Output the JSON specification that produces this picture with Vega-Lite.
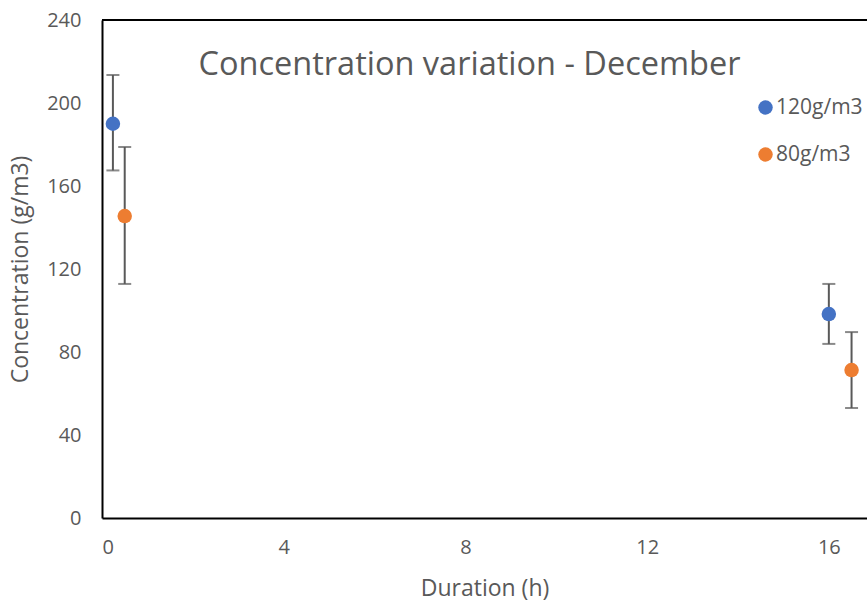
{
  "$schema": "https://vega.github.io/schema/vega-lite/v6.json",
  "width": 765,
  "height": 498,
  "autosize": {"type": "none"},
  "padding": {"left": 102, "top": 20, "right": 0, "bottom": 83},
  "background": "white",
  "config": {
    "view": {"stroke": null},
    "font": "Open Sans",
    "axis": {"labelColor": "#595959", "titleColor": "#595959", "labelFont": "Open Sans", "titleFont": "Open Sans", "labelFontSize": 20, "titleFontSize": 23, "titleFontWeight": "normal", "grid": false, "ticks": false, "domainColor": "black", "domainWidth": 2}
  },
  "title": {"text": "Concentration variation - December", "fontSize": 32.5, "font": "Open Sans", "fontWeight": "normal", "color": "#595959", "anchor": "middle", "frame": "group", "orient": "top", "offset": -71, "dx": -15},
  "data": {"values": [
    {"duration": 0.24, "conc": 190, "lo": 167.5, "hi": 213.5, "series": "120g/m3"},
    {"duration": 0.5, "conc": 145.5, "lo": 112.8, "hi": 178.8, "series": "80g/m3"},
    {"duration": 16.0, "conc": 98.3, "lo": 83.9, "hi": 112.8, "series": "120g/m3"},
    {"duration": 16.5, "conc": 71.3, "lo": 53, "hi": 89.6, "series": "80g/m3"}
  ]},
  "layer": [
    {
      "mark": {"type": "rule", "color": "black", "strokeWidth": 2},
      "encoding": {"y": {"datum": 240, "scale": {"domain": [0, 240]}}}
    },
    {
      "mark": {"type": "rule", "color": "#595959", "strokeWidth": 2},
      "encoding": {
        "x": {"field": "duration", "type": "quantitative"},
        "y": {"field": "lo", "type": "quantitative"},
        "y2": {"field": "hi"}
      }
    },
    {
      "mark": {"type": "tick", "color": "#595959", "orient": "horizontal", "size": 13, "thickness": 2},
      "encoding": {
        "x": {"field": "duration", "type": "quantitative"},
        "y": {"field": "lo", "type": "quantitative"}
      }
    },
    {
      "mark": {"type": "tick", "color": "#595959", "orient": "horizontal", "size": 13, "thickness": 2},
      "encoding": {
        "x": {"field": "duration", "type": "quantitative"},
        "y": {"field": "hi", "type": "quantitative"}
      }
    },
    {
      "mark": {"type": "point", "filled": true, "opacity": 1, "size": 210, "shape": "circle"},
      "encoding": {
        "x": {"field": "duration", "type": "quantitative", "title": "Duration (h)",
              "scale": {"domain": [0, 16.84], "nice": false, "zero": false},
              "axis": {"values": [0, 4, 8, 12, 16], "labelPadding": 19, "titlePadding": 20}},
        "y": {"field": "conc", "type": "quantitative", "title": "Concentration (g/m3)",
              "scale": {"domain": [0, 240], "nice": false},
              "axis": {"values": [0, 40, 80, 120, 160, 200, 240], "labelPadding": 21, "titlePadding": 14}},
        "color": {"field": "series", "type": "nominal",
                  "scale": {"domain": ["120g/m3", "80g/m3"], "range": ["#4472C4", "#ED7D31"]},
                  "legend": {"title": null, "orient": "none", "legendX": 653, "legendY": 77, "labelFontSize": 21, "labelColor": "#595959", "labelFont": "Open Sans", "symbolSize": 210, "symbolType": "circle", "rowPadding": 25, "labelOffset": 0, "symbolStrokeWidth": 0}}
      }
    }
  ]
}
